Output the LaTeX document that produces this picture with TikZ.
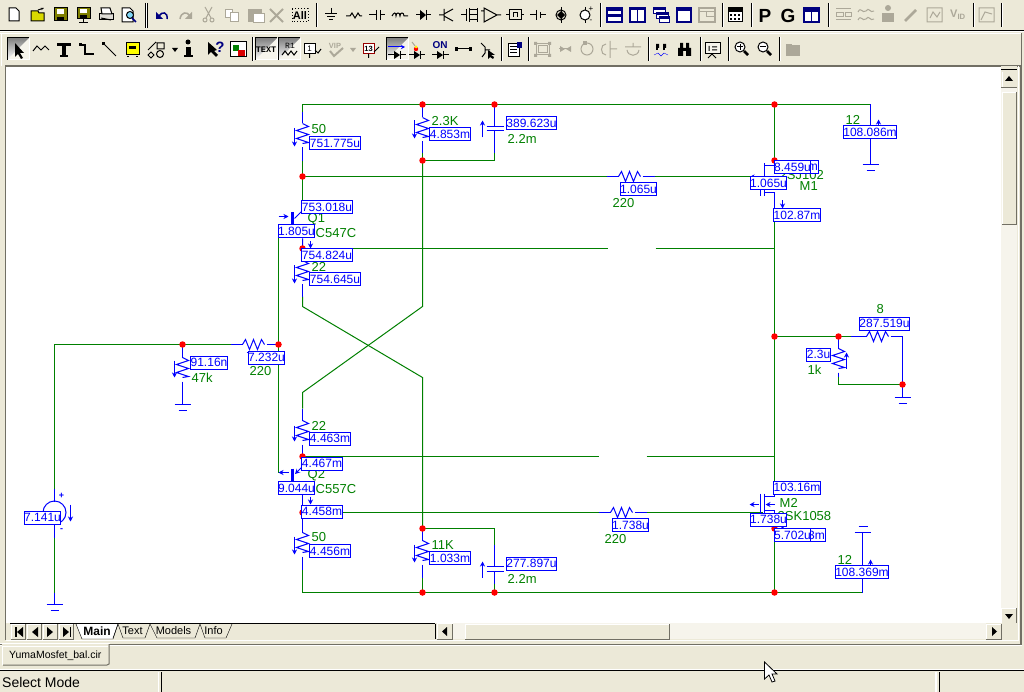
\documentclass[tikz,border=0pt]{standalone}
\usepackage{fontspec}
\setmainfont{Liberation Sans}
\setmonofont{Liberation Mono}
\usetikzlibrary{arrows.meta,calc}
\definecolor{face}{HTML}{ECE9D8}
\definecolor{shade}{HTML}{ACA899}
\definecolor{dark}{HTML}{716F64}
\definecolor{wgreen}{HTML}{008000}
\definecolor{cblue}{HTML}{0000FF}
\definecolor{track}{HTML}{F6F4EC}
\definecolor{navyi}{HTML}{000080}
\definecolor{gi}{HTML}{ACA899}
\definecolor{olivei}{HTML}{808000}
\definecolor{yeli}{HTML}{FFFF00}
\tikzset{
 wire/.style={draw=wgreen,line width=1pt},
 comp/.style={draw=cblue,line width=1pt},
 grn/.style={text=wgreen,font=\fontsize{13}{13}\selectfont,inner sep=0pt},
 ro/.style={draw=cblue,fill=white,line width=1pt,text=cblue,inner sep=0pt,minimum height=13pt,font=\fontsize{12}{12}\selectfont},
 dotn/.style={circle,fill=red,inner sep=0pt,minimum size=6.5pt},
 cur/.style={cblue,line width=1pt,-{Stealth[length=5pt,width=5pt]}},
 ic/.style={line width=1pt,draw=black},
 icg/.style={line width=1pt,draw=gi},
 uitext/.style={inner sep=0pt,text=black,font=\fontsize{11}{11}\selectfont},
}
\newcommand\rdg[5]{\node[ro,minimum width=#4pt] (#1) at (#2,#3) {#5};}
\newcommand\lbl[4]{\node[grn,anchor=west] (#1) at (#2,#3) {#4};}
\newcommand\vres[2]{\draw[comp] (#1,#2-12) -- ++(6,3) -- ++(-12,4) -- ++(12,4) -- ++(-12,4) -- ++(12,4) -- ++(-6,1);}
\newcommand\hres[2]{\draw[comp] (#1-12,#2) -- ++(3,-5) -- ++(4,10) -- ++(4,-10) -- ++(4,10) -- ++(4,-10) -- ++(3,5);}
\newcommand\dn[3]{\draw[cur] (#1,#2) -- (#1,#3);}
\newcommand\gnd[2]{\draw[comp] (#1-8,#2) -- (#1+8,#2) (#1-4,#2+6) -- (#1+4,#2+6);}
\newcommand\tsep[2]{\draw[shade,line width=1pt] (#1,#2-12) -- (#1,#2+12); \draw[white,line width=1pt] (#1+1,#2-12) -- (#1+1,#2+12);}
\newcommand\selbtn[2]{\fill[track] (#1-11,#2-11) rectangle (#1+11,#2+11); \draw[white,line width=1pt] (#1-11,#2+11) -- (#1+11,#2+11) -- (#1+11,#2-11); \draw[shade,line width=1pt] (#1-11,#2+11) -- (#1-11,#2-11) -- (#1+11,#2-11);}
\begin{document}
\begin{tikzpicture}[x=1pt,y=-1pt]
\useasboundingbox (0,0) rectangle (1024,692);
\fill[face] (0,0) rectangle (1024,692);
% toolbar dividers
\draw[shade] (0,30.5) -- (1024,30.5); \draw[white] (0,31.5) -- (1024,31.5);
\draw[white] (0,33.5) -- (1022,33.5); \draw[dark] (1021,33) -- (1021,66);
\draw[white] (1.5,33) -- (1.5,66);
\draw[shade] (145,3) -- (145,28); \draw[shade] (147,3) -- (147,28); \draw[white] (146,3) -- (146,28);
\tsep{316}{15} \tsep{600}{15} \tsep{751}{15} \tsep{828}{15} \tsep{1001}{15}
\tsep{722}{15} \tsep{973}{15}
\tsep{252}{49} \tsep{501}{49} \tsep{528}{49} \tsep{648}{49} \tsep{700}{49} \tsep{728}{49} \tsep{779}{49}
% canvas
\fill[white] (6,66) rectangle (1001,623);
\draw[dark,line width=1.5pt] (5,66) -- (1022,66);
\draw[dark,line width=1pt] (5.5,66) -- (5.5,623);
% ROW 1 ICONS
\draw[ic,fill=white] (9,8) -- (16,8) -- (19,11) -- (19,21) -- (9,21) -- cycle;
\draw[ic,fill=yeli!70!olivei] (31,21) -- (31,11) -- (38,11) -- (39,13) -- (44,13) -- (44,21) -- cycle; \draw[ic,-{Stealth[length=3pt]}] (38,10) -- (44,8);
\draw[ic,fill=olivei] (54,8) rectangle (67,21); \fill[white] (57,9) rectangle (64,14); \fill[black] (57,17) rectangle (64,21);
\draw[ic,fill=olivei] (77,8) rectangle (90,19); \fill[white] (80,9) rectangle (87,13); \fill[black] (80,15) rectangle (87,19); \draw[ic] (83.5,19) -- (83.5,23) (79,23) -- (88,23);
\draw[ic,fill=gi!40] (99,14) rectangle (113,20); \draw[ic,fill=white] (101,8) -- (110,8) -- (112,14) -- (102,14) -- cycle; \draw[ic] (101,18) -- (111,20);
\draw[ic,fill=white] (122,8) -- (130,8) -- (133,11) -- (133,22) -- (122,22) -- cycle; \draw[draw=black,fill=cyan!50,line width=1pt] (130,15) circle (3.5); \draw[navyi,line width=1.5pt] (132,18) -- (136,22);
\draw[navyi,line width=1.5pt] (159,16) .. controls (162,11) and (168,12) .. (167,19); \fill[navyi] (156,12) -- (156,19) -- (163,19) -- cycle;
\draw[gi,line width=1.5pt] (190,16) .. controls (187,11) and (181,12) .. (180,19); \fill[gi] (192,12) -- (192,19) -- (185,19) -- cycle;
\draw[icg] (205,7) -- (211,18) (212,7) -- (206,18); \draw[icg] (205,20) circle (2); \draw[icg] (212,20) circle (2);
\draw[icg,fill=white] (225,10) rectangle (232,18); \draw[icg,fill=white] (230,13) rectangle (238,22);
\draw[icg,fill=gi] (248,10) rectangle (261,22); \draw[icg,fill=white] (253,14) rectangle (264,23);
\draw[gi,line width=2pt] (270,9) -- (283,22) (283,9) -- (270,22);
\draw[black,dotted,line width=1pt] (292,9) rectangle (308,22); \node[uitext,font=\bfseries\fontsize{11}{11}\selectfont] (allT) at (300,15.5) {All};
\draw[ic] (331,8) -- (331,14) (325,14) -- (337,14) (327,17) -- (335,17) (329,20) -- (333,20);
\draw[ic] (346,16) -- (350,16) -- (352,13) -- (355,18) -- (358,13) -- (360,16) -- (362,16);
\draw[ic] (369,15) -- (376,15) (376,10) -- (376,20) (380,10) -- (380,20) (380,15) -- (385,15);
\draw[ic] (392,16) .. controls (394,12) and (396,12) .. (396,16) .. controls (396,12) and (400,12) .. (400,16) .. controls (400,12) and (404,12) .. (404,16) -- (408,16);
\draw[ic] (416,15) -- (420,15) (426,10) -- (426,20) (426,15) -- (431,15); \fill (420,10) -- (426,15) -- (420,20) -- cycle;
\draw[ic] (439,15) -- (444,15) (444,9) -- (444,21) (453,9) -- (444,14) (444,16) -- (453,21);
\draw[ic] (461,15) -- (466,15) (466,9) -- (466,21) (469,8) -- (469,22) (469,10) -- (477,10) (469,20) -- (477,20) (469,15) -- (477,15) (477,8) -- (477,22);
\draw[ic] (484,8) -- (484,22) -- (497,15) -- cycle (481,11) -- (484,11) (497,15) -- (501,15);
\draw[ic] (506,15) -- (509,15) (509,10) rectangle (521,20) (513,17) -- (513,13) -- (517,13) -- (517,17) (521,15) -- (524,15);
\draw[ic] (530,15) -- (536,15) (536,10) -- (536,20) (540,12) -- (540,18) (540,15) -- (546,15);
\draw[ic] (561,7) -- (561,23); \draw[ic] (561,15) circle (5); \fill (561,11) -- (565,15) -- (561,19) -- (557,15) -- cycle;
\draw[ic] (585,7) -- (585,23); \draw[ic,fill=white] (585,15) circle (5); \node[uitext,font=\fontsize{8}{8}\selectfont] (pa) at (591,9) {+}; \node[uitext,font=\fontsize{8}{8}\selectfont] (pb) at (591,21) {-};
\draw[navyi,line width=1.5pt,fill=white] (607,8) rectangle (622,22); \fill[navyi] (607,8) rectangle (622,11); \fill[navyi] (607,14) rectangle (622,17);
\draw[navyi,line width=1.5pt,fill=white] (630,8) rectangle (645,22); \fill[navyi] (630,8) rectangle (645,10); \draw[navyi,line width=1.5pt] (637.5,8) -- (637.5,22);
\draw[navyi,line width=1pt,fill=white] (653,8) rectangle (665,14); \draw[navyi,line width=1pt,fill=white] (656,13) rectangle (668,19); \draw[navyi,line width=1pt,fill=white] (659,17) rectangle (669,23);
\fill[navyi] (653,8) rectangle (665,10); \fill[navyi] (656,13) rectangle (668,15); \fill[navyi] (659,17) rectangle (669,19);
\draw[navyi,line width=1.5pt,fill=white] (677,8) rectangle (691,22); \fill[navyi] (677,8) rectangle (691,11);
\draw[gi,line width=1.5pt,fill=face] (699,8) rectangle (715,22); \draw[gi] (699,11) -- (715,11) (706,11) -- (706,16) -- (715,16);
\draw[ic,fill=white] (728,8) rectangle (742,22); \fill (728,8) rectangle (742,12); \foreach \xa in {731,735,739}{\fill (\xa-1,14) rectangle (\xa+1,16); \fill (\xa-1,18) rectangle (\xa+1,20);}
\node[uitext,font=\bfseries\fontsize{19}{19}\selectfont,text=black] (pp) at (765,15.5) {P};
\node[uitext,font=\bfseries\fontsize{19}{19}\selectfont,text=black] (gg) at (788,15.5) {G};
\draw[navyi,line width=1.5pt,fill=white] (804,8) rectangle (819,22); \fill[navyi] (804,8) rectangle (819,12); \draw[navyi] (811,12) -- (811,22);
\draw[icg] (836,9) -- (851,9) (836,13) rectangle (843,17) (845,13) rectangle (851,17) (836,20) -- (851,20);
\draw[icg] (858,12) .. controls (861,6) and (862,14) .. (866,11) .. controls (869,6) and (870,14) .. (874,11) (858,20) .. controls (861,14) and (862,22) .. (866,19) .. controls (869,14) and (870,22) .. (874,19);
\fill[gi] (882,13) rectangle (894,22); \fill[gi] (888,8) circle (3);
\draw[gi,line width=2.5pt] (905,21) -- (916,10);
\draw[icg] (927,8) rectangle (942,22) (930,18) -- (933,12) -- (937,17) -- (940,12);
\node[uitext,text=gi,font=\bfseries\fontsize{11}{11}\selectfont] (vid) at (958,15) {V\textsubscript{ID}};
\draw[icg] (979,8) rectangle (994,22) (981,20) -- (985,12) -- (992,14);
% ROW 2 ICONS
\selbtn{18}{49}
\fill[black] (15,43) -- (15,57) -- (18,54) -- (21,59) -- (23,58) -- (20,53) -- (24,53) -- cycle;
\draw[ic] (33,51) -- (37,46) -- (41,50) -- (45,46) -- (49,50);
\fill[black] (57,43) rectangle (71,46); \fill[black] (62,43) rectangle (66,56); \fill[black] (60,55) rectangle (68,57);
\draw[ic,line width=1.2pt] (79,45) -- (85,45) -- (85,54) -- (94,54); \fill (79,43) rectangle (82,46);
\draw[ic] (103,43) -- (116,56); \fill (102,42) rectangle (105,45);
\draw[ic,fill=yeli] (126,43) rectangle (139,55); \fill[black] (129,46) rectangle (136,49); \draw[ic] (127,57) -- (129,57) (136,57) -- (138,57);
\draw[ic] (148,50) -- (156,42) (157,43) rectangle (164,49) (148,55) -- (151,52) -- (154,55) -- (151,58) -- cycle; \draw[ic] (160,54) circle (3.5);
\fill (172,48) -- (178,48) -- (175,52) -- cycle;
\fill (188,42) circle (2.5); \fill (186,47) rectangle (191,55); \fill (184,55) rectangle (193,57);
\fill (208,42) -- (208,55) -- (211,52) -- (216,57) -- (218,55) -- (214,51) -- (217,50) -- cycle; \node[uitext,text=navyi,font=\bfseries\fontsize{15}{15}\selectfont] (qm) at (220,47) {?};
\draw[ic,fill=white] (230,42) rectangle (246,57); \fill[green!50!black] (233,45) rectangle (239,51); \fill[red!85!black] (238,50) rectangle (245,56);
\selbtn{266}{49} \selbtn{289}{49}
\node[uitext,font=\ttfamily\bfseries\fontsize{8.5}{8.5}\selectfont] (ttxt) at (266,50) {TEXT};
\node[uitext,font=\ttfamily\fontsize{8}{8}\selectfont] (tr1) at (290,46) {R1};
\draw[ic] (282,55) -- (285,51) -- (288,55) -- (291,51) -- (294,55) -- (297,51);
\draw[ic,fill=white] (304,44) rectangle (315,54); \node[uitext,font=\fontsize{8}{8}\selectfont] (t1) at (309.5,49) {1}; \draw[ic] (309.5,54) -- (309.5,58) (315,50) -- (318,53) -- (321,49);
\node[uitext,text=gi,font=\bfseries\fontsize{7.5}{7.5}\selectfont] (vip) at (335,46) {VIP}; \draw[gi,line width=2pt] (330,51) -- (334,56) -- (343,48);
\fill[gi] (350,48) -- (356,48) -- (353,52) -- cycle;
\draw[red!60!black,line width=1pt,fill=white] (363,44) rectangle (374,54); \node[uitext,font=\bfseries\fontsize{7.5}{7.5}\selectfont] (t13) at (368.5,49) {13}; \draw[ic] (368.5,54) -- (368.5,58) (374,52) -- (379,47);
\selbtn{397}{49}
\draw[cblue,line width=1pt,-{Stealth[length=4pt,width=4pt]}] (388,47) -- (405,47); \draw[ic] (388,55) -- (394,55) (400,51) -- (400,59) (400,55) -- (406,55); \fill (394,51) -- (400,55) -- (394,59) -- cycle;
\fill[red] (416,49) circle (2.2); \fill[yellow] (416,47) circle (1.5); \draw[gi,line width=1pt] (412,42) -- (415,46); \draw[ic] (409,55) -- (414,55) (420,51) -- (420,59) (420,55) -- (425,55); \fill (414,51) -- (420,55) -- (414,59) -- cycle;
\node[uitext,text=navyi,font=\bfseries\fontsize{10}{10}\selectfont] (ton) at (440,45) {ON}; \draw[ic] (432,55) -- (437,55) (443,51) -- (443,59) (443,55) -- (449,55); \fill (437,51) -- (443,55) -- (437,59) -- cycle;
\draw[ic] (456,49) -- (471,49); \fill (455,47) rectangle (458,51); \fill (469,47) rectangle (472,51);
\draw[ic] (481,43) -- (485,47) -- (485,53) -- (482,57) (485,50) -- (490,50); \fill (488,50) -- (488,59) -- (490,57) -- (493,59) -- (494,57) -- (491,55) -- (495,55) -- cycle;
\draw[ic,fill=white] (508,44) rectangle (519,57); \draw[ic] (510,47) -- (517,47) (510,50) -- (517,50) (510,53) -- (517,53); \fill[navyi] (517,42) rectangle (522,48);
\draw[icg] (536,44) rectangle (549,55); \draw[icg] (538,46) rectangle (547,53); \fill[gi] (534,42) rectangle (537,45) (548,42) rectangle (551,45) (534,54) rectangle (537,57) (548,54) rectangle (551,57);
\draw[icg] (559,49) -- (571,49); \fill[gi] (560,46) -- (565,49) -- (560,52) -- cycle (571,46) -- (566,49) -- (571,52) -- cycle;
\draw[icg] (587,49) circle (6); \fill[gi] (583,41) rectangle (587,45);
\draw[icg] (606,44) .. controls (600,44) and (600,55) .. (606,55) (610,41) -- (610,58) (610,49) -- (617,49);
\draw[icg] (625,47) -- (641,47) (633,43) -- (633,47) (627,50) .. controls (628,57) and (638,57) .. (639,50);
\draw[ic,line width=2pt] (657,46) -- (657,50) (664,46) -- (664,50); \fill (656,44) rectangle (659,48) (663,44) rectangle (666,48); \draw[cblue] (654,55) -- (658,53) -- (661,56) -- (664,53) -- (668,55);
\fill (678,48) rectangle (683,56) (686,48) rectangle (691,56) (680,43) rectangle (683,48) (686,43) rectangle (689,48) (683,48) rectangle (686,51);
\draw[ic,fill=track] (705,43) rectangle (720,54); \draw[ic] (712,54) -- (708,58) (712,54) -- (716,58) (709,46) -- (709,51) (712,47) -- (717,47) (712,50) -- (717,50);
\draw[ic,fill=white] (740,47) circle (5); \draw[line width=2.5pt,black] (744,51) -- (748,55); \draw[ic] (737,47) -- (743,47) (740,44) -- (740,50);
\draw[ic,fill=white] (763,47) circle (5); \draw[line width=2.5pt,black] (767,51) -- (771,55); \draw[ic] (760,47) -- (766,47);
\fill[gi] (786,45) rectangle (800,56); \fill[gi] (786,44) rectangle (792,46);
% SCHEMATIC
\begin{scope}[shift={(0.5,0.5)}]
\coordinate (tl) at (302,104); \coordinate (nA) at (422,104); \coordinate (nB) at (494,104); \coordinate (nC) at (774,104);
\coordinate (bl) at (302,592); \coordinate (nD) at (422,592); \coordinate (nE) at (494,592); \coordinate (nF) at (774,592);
\coordinate (nG) at (302,176); \coordinate (nH) at (422,160); \coordinate (nI) at (774,160); \coordinate (nJ) at (302,248);
\coordinate (nK) at (278,344); \coordinate (nL) at (182,344); \coordinate (nM) at (774,336); \coordinate (nN) at (838,336);
\coordinate (nO) at (902,384); \coordinate (nP) at (302,456); \coordinate (nQ) at (302,512); \coordinate (nR) at (422,528); \coordinate (nS) at (774,528);
% green wires
\draw[wire] (tl) -- (nA) -- (nB) -- (nC) -- (870,104);
\draw[wire] (tl) -- (302,112) (302,161) -- (nG) -- (302,200);
\draw[wire] (422,153) -- (nH) -- (494,160) -- (494,153);
\draw[wire] (nG) -- (606,176) (654,176) -- (762,176);
\draw[wire] (nJ) -- (607,248) (655,248) -- (774,248);
\draw[wire] (nH) -- (422,306) -- (302,392) -- (302,408);
\draw[wire] (302,296) -- (302,306) -- (422,377) -- (nR);
\draw[wire] (nP) -- (598,456) (646,456) -- (774,456);
\draw[wire] (nQ) -- (598,512) (646,512) -- (762,512);
\draw[wire] (nR) -- (494,528) -- (494,544);
\draw[wire] (302,569) -- (bl) -- (nD) -- (nE) -- (nF) -- (862,592);
\draw[wire] (422,577) -- (nD);
\draw[wire] (nC) -- (nI) -- (774,165);
\draw[wire] (774,221) -- (nM) -- (774,481);
\draw[wire] (nS) -- (nF);
\draw[wire] (nM) -- (nN) -- (850,336);
\draw[wire] (838,372) -- (838,384) -- (nO);
\draw[wire] (54,537) -- (54,592);
\draw[wire] (54,488) -- (54,344) -- (nL) -- (230,344);
\draw[wire] (278,238) -- (nK) -- (278,472);
% Resistors & comps
\draw[comp] (302,112) -- (302,123); \vres{302}{135} \draw[comp] (302,147) -- (302,161); \dn{294}{128}{146}
\draw[comp] (422,104) -- (422,117); \vres{422}{129} \draw[comp] (422,141) -- (422,153); \dn{414}{120}{138}
\draw[comp] (494,104) -- (494,126) (486,126) -- (503,126) (486,130.5) -- (503,130.5) (494,130.5) -- (494,153);
\draw[cur] (482,137) -- (482,120);
% Q1
\draw[comp] (302,200) -- (302,210) -- (294,218) (302,238) -- (302,248);
\draw[cblue,line width=3pt] (292,212) -- (292,227);
\dn{310}{241}{248}
\draw[cur] (278,216) -- (288,216);
\draw[comp] (302,248) -- (302,261); \vres{302}{272} \draw[comp] (302,284) -- (302,296); \dn{294}{265}{283}
% Q2 etc
\draw[comp] (302,408) -- (302,420); \vres{302}{432} \draw[comp] (302,444) -- (302,456); \dn{294}{425}{441}
\draw[comp] (302,456) -- (302,466);
\draw[cblue,line width=1pt,-{Stealth[length=5pt,width=5pt]}] (302,466) -- (294.5,473.5);
\draw[cblue,line width=3pt] (292,468) -- (292,482);
\draw[cblue,line width=1pt,-{Stealth[length=5pt,width=5pt]}] (288,472) -- (278,472);
\draw[comp] (302,494) -- (302,504); \dn{310}{496}{504}
\draw[comp] (302,518) -- (302,532); \vres{302}{544} \draw[comp] (302,556) -- (302,569); \dn{294}{536}{554}
\draw[comp] (422,528) -- (422,540); \vres{422}{552} \draw[comp] (422,564) -- (422,577); \dn{414}{544}{562}
\draw[comp] (494,544) -- (494,566) (486,566) -- (503,566) (486,570.5) -- (503,570.5) (494,570.5) -- (494,583);
\draw[wire] (494,583) -- (494,592);
\draw[cur] (482,577) -- (482,561);
% 47k, input R
\draw[comp] (182,344) -- (182,357); \vres{182}{369} \draw[comp] (182,381) -- (182,404); \gnd{182}{404} \dn{174}{360}{377}
\draw[comp] (230,344) -- (242,344); \hres{254}{344} \draw[comp] (266,344) -- (278,344); \draw[comp] (246,352) -- (250,352);
% gate resistors
\draw[comp] (606,176) -- (618,176); \hres{630}{176} \draw[comp] (642,176) -- (654,176);
\draw[comp] (598,512) -- (610,512); \hres{622}{512} \draw[comp] (634,512) -- (646,512);
% M1
\draw[comp] (774,165) -- (764,165) (764,163) -- (764,196) (760,176) -- (760,196) (764,192) -- (774,192) -- (774,221);
\dn{782}{200}{208}
\draw[cblue,line width=1pt,-{Stealth[length=4pt,width=4pt]}] (764,176) -- (750,176);
% M2
\draw[comp] (774,481) -- (774,496) -- (764,496) (764,493) -- (764,513) (760,493) -- (760,513) (764,510) -- (774,510) -- (774,528);
\draw[cblue,line width=1pt,-{Stealth[length=5pt,width=5pt]}] (774,504) -- (765,504);
\draw[cblue,line width=1pt,-{Stealth[length=5pt,width=5pt]}] (758,504) -- (749,504);
\dn{782}{522}{529}
% 8 ohm & 1k
\draw[comp] (850,336) -- (866,336); \hres{878}{336} \draw[comp] (890,336) -- (902,336) -- (902,384);
\draw[comp] (902,384) -- (902,397); \gnd{902}{397}
\draw[comp] (838,336) -- (838,348); \vres{838}{360} \draw[comp] (838,372) -- (838,376); \draw[cur] (846,368) -- (846,352);
% right 12V sources
\draw[comp] (870,104) -- (870,164); \gnd{870}{164} \draw[cblue,-{Stealth[length=5pt,width=5pt]},line width=1pt] (878,125) -- (878,119);
\draw[comp] (862,592) -- (862,532) (854,532) -- (870,532) (858,526) -- (867,526); \draw[cblue,-{Stealth[length=5pt,width=5pt]},line width=1pt] (870,565) -- (870,559);
% source
\draw[comp] (54,488) -- (54,501) (54,524) -- (54,537);
\draw[comp] (54,512) circle (11.5);
\dn{70}{504}{521}
\node[uitext,text=cblue,font=\bfseries\fontsize{9}{9}\selectfont] (sp) at (61,495) {+};
\node[uitext,text=cblue,font=\bfseries\fontsize{9}{9}\selectfont] (sm) at (61,529.5) {-};
\draw[comp] (54,592) -- (54,604); \gnd{54}{604}
% green text
\lbl{t50a}{311}{129}{50} \lbl{t23k}{431}{121}{2.3K} \lbl{tc1}{507}{138}{2.2m}
\lbl{tq1}{307}{219}{Q1} \lbl{tc547}{315}{233}{C547C} \lbl{t22a}{311}{266}{22}
\lbl{t22b}{311}{425}{22} \lbl{tq2}{307}{475}{Q2} \lbl{tc557}{315}{489}{C557C}
\lbl{t50b}{311}{537}{50} \lbl{t11k}{431}{545}{11K} \lbl{tc2}{507}{578}{2.2m}
\lbl{t12a}{845}{119}{12} \lbl{t12b}{837}{559}{12} \lbl{tm1}{799}{186}{M1} \lbl{tm2}{779}{502}{M2}
\lbl{tsj}{779}{175}{2SJ102} \lbl{tsk}{777}{516}{2SK1058}
\lbl{t8}{876}{309}{8} \lbl{t1k}{807}{369}{1k} \lbl{t47k}{191}{377}{47k}
\lbl{t220a}{249}{371}{220} \lbl{t220b}{612}{203}{220} \lbl{t220c}{604}{539}{220}
% dots covered by readouts
\foreach \p in {nI,nJ,nP,nQ,nS}{\node[dotn] at (\p) {};}
% readouts
\rdg{r1}{334.5}{142.5}{49}{751.775u}
\rdg{r2}{449.5}{134}{39}{4.853m}
\rdg{r3}{531}{123}{48}{389.623u}
\rdg{r4}{326.5}{207}{49}{753.018u}
\rdg{r5}{296}{231}{36}{1.805u}
\rdg{r6}{326.5}{255}{49}{754.824u}
\rdg{r7}{334.5}{278.5}{49}{754.645u}
\node[ro,minimum width=44pt,text width=42.5pt,align=right] (r8) at (796,167) {m};
\rdg{r9}{792}{167}{36}{8.459u}
\rdg{r10}{768}{182.5}{36}{1.065u}
\rdg{r11}{796.5}{214.5}{45}{102.87m}
\rdg{r12}{869.5}{131.5}{49}{108.086m}
\rdg{r13}{638}{188.5}{36}{1.065u}
\rdg{r14}{329.5}{438}{39}{4.463m}
\rdg{r15}{321.5}{463}{39}{4.467m}
\rdg{r16}{296}{487.5}{36}{9.044u}
\rdg{r17}{321.5}{511}{39}{4.458m}
\rdg{r18}{329.5}{550.5}{39}{4.456m}
\rdg{r19}{449.5}{557.5}{39}{1.033m}
\rdg{r20}{531}{563}{48}{277.897u}
\rdg{r21}{630}{524.5}{36}{1.738u}
\rdg{r22}{796.5}{487}{45}{103.16m}
\rdg{r23}{768}{519}{36}{1.738u}
\node[ro,minimum width=51pt,text width=49.5pt,align=right] (r24) at (799.5,534.5) {3m};
\rdg{r25}{792}{534.5}{36}{5.702u}
\rdg{r26}{861.5}{571.5}{49}{108.369m}
\rdg{r27}{884}{323}{48}{287.519u}
\rdg{r28}{818}{354}{24}{2.3u}
\rdg{r29}{208.5}{362}{37}{91.16n}
\rdg{r30}{266}{357}{36}{7.232u}
\rdg{r31}{42}{517}{36}{7.141u}
% junction dots
\foreach \p in {nA,nB,nC,nD,nE,nF,nG,nH,nK,nL,nM,nN,nO,nR}{\node[dotn] at (\p) {};}
\end{scope}
% v scrollbar
\fill[face] (1001,66) rectangle (1017,639);
\fill[track] (1001,87) rectangle (1017,608);
\fill[black] (1001,69.5) rectangle (1017,70.5);
\draw[white] (1002,72) -- (1002,87); \draw[dark] (1001,87.5) -- (1017,87.5);
\fill[black] (1009,76) -- (1013,81) -- (1005,81) -- cycle;
\fill[face] (1002,92) rectangle (1017,224); \draw[white] (1002.5,224) -- (1002.5,92.5) -- (1017,92.5); \draw[dark] (1016.5,92) -- (1016.5,224) -- (1002,224);
\fill[face] (1001,608) rectangle (1017,623); \draw[white] (1002,608.5) -- (1017,608.5) (1001.5,608) -- (1001.5,623); \draw[dark] (1016.5,608) -- (1016.5,623) -- (1001,623);
\fill[black] (1005,614) -- (1013,614) -- (1009,619) -- cycle;
\draw[dark,line width=1.5pt] (1021,66) -- (1021,644);
\draw[white,line width=1pt] (1018.5,66) -- (1018.5,640);
% h bar area
\fill[face] (6,623) rectangle (1017,640);
\fill[track] (453,623) rectangle (986,639);
\draw[white] (437,623.5) -- (453,623.5);
\fill[face] (465,624) rectangle (669,639); \draw[white] (465.5,639) -- (465.5,624.5) -- (669,624.5); \draw[dark] (669.5,624) -- (669.5,639) -- (465,639);
\draw[white] (437.5,639) -- (437.5,624); \draw[dark] (452.5,624) -- (452.5,639) -- (437,639);
\fill (447,627) -- (442,631.5) -- (447,636) -- cycle;
\draw[white] (986.5,639) -- (986.5,624) -- (1001,624); \draw[dark] (1001.5,624) -- (1001.5,639) -- (986,639);
\fill (992,627) -- (997,631.5) -- (992,636) -- cycle;
\draw[white] (6,640.5) -- (1019,640.5);
\draw[dark,line width=1pt] (5.5,623) -- (5.5,640);
% nav & tabs
\draw[black,line width=1pt] (10,623.5) -- (435,623.5) (435,623.5) -- (435,639);
\foreach \xa/\xb in {11/26,27/42,43/58,59/74}{\fill[face] (\xa,624) rectangle (\xb,639); \draw[white] (\xa+.5,639) -- (\xa+.5,624.5) -- (\xb,624.5); \draw[dark] (\xb-.5,624) -- (\xb-.5,639) -- (\xa,639);}
\fill (15,627) rectangle (16.5,637); \fill (23,627) -- (17,632) -- (23,637) -- cycle;
\fill (38,627) -- (32,632) -- (38,637) -- cycle;
\fill (47,627) -- (53,632) -- (47,637) -- cycle;
\fill (63,627) -- (69,632) -- (63,637) -- cycle; \fill (69.5,627) rectangle (71,637);
\draw[black,fill=white] (76,624) -- (82,639) -- (113,639) -- (118,624);
\node[uitext,font=\bfseries\fontsize{12}{12}\selectfont] (tabmain) at (97,631) {Main};
\draw[black] (118,624) -- (113,638) (118,624) -- (123,638) -- (145,638) -- (150,624) -- (145,638) (150,624) -- (157,638) -- (195,638) -- (200,624) -- (195,638) (200,624) -- (205,638) -- (226,638) -- (232,624);
\node[uitext] (tabtext) at (132.5,631) {Text};
\node[uitext] (tabmod) at (173.5,631) {Models};
\node[uitext] (tabinf) at (213.5,631) {Info};
% bottom tab
\draw[white] (0,643.5) -- (110,643.5); \draw[dark,line width=1pt] (0,644.5) -- (1022,644.5); \draw[white] (0,645.5) -- (1022,645.5);
\fill[face] (2,644) rectangle (109,665); \draw[white] (2.5,665) -- (2.5,646) -- (108,646); \draw[dark,line width=1pt] (109,644) -- (109,664) -- (107,665) -- (3,665);
\node[uitext,anchor=west,font=\fontsize{10.5}{10.5}\selectfont] (tabfile) at (9,655.5) {YumaMosfet\_bal.cir};
% status bar
\draw[white] (0,669.5) -- (1024,669.5); \draw[shade] (0,670.5) -- (1024,670.5);
\draw[white,line width=1.5pt] (158.5,672) -- (158.5,692) (936,672) -- (936,692); \draw[shade] (161,672) -- (161,692) (939,672) -- (939,692);
\node[uitext,anchor=west,font=\fontsize{14}{14}\selectfont] (status) at (2,682) {Select Mode};
% cursor
\draw[black,fill=white,line width=0.8pt] (764.5,662) -- (764.5,679) -- (769,675) -- (772,682) -- (775,681) -- (772,674) -- (777,674) -- cycle;
\end{tikzpicture}
\end{document}
